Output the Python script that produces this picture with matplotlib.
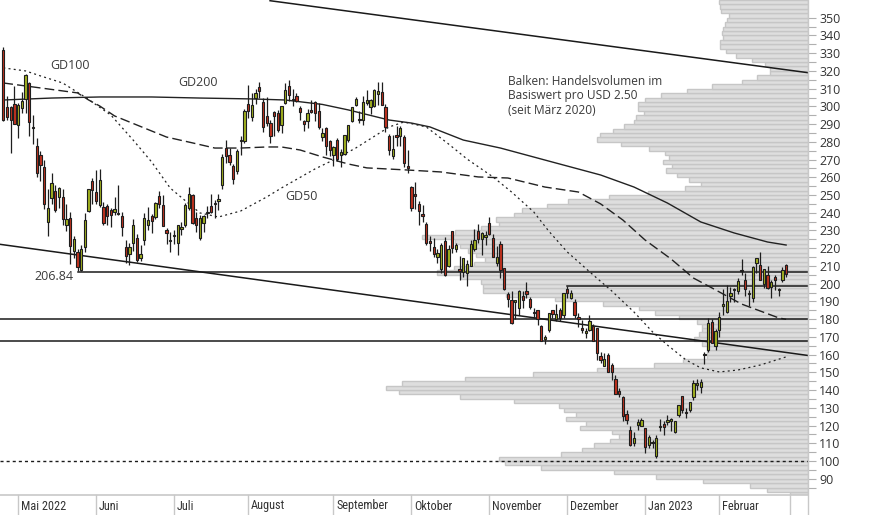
import matplotlib
matplotlib.use("Agg")
import matplotlib.pyplot as plt
import numpy as np
from matplotlib.lines import Line2D
from matplotlib import font_manager

# ---------------- data ----------------
dates = (
    ["26.04.", "27.04.", "28.04.", "29.04."] +
    ["%02d.05." % d for d in [2,3,4,5,6,9,10,11,12,13,16,17,18,19,20,23,24,25,26,27,31]] +
    ["%02d.06." % d for d in [1,2,3,6,7,8,9,10,13,14,15,16,17,21,22,23,24,27,28,29,30]] +
    ["%02d.07." % d for d in [1,5,6,7,8,11,12,13,14,15,18,19,20,21,22,25,26,27,28,29]] +
    ["%02d.08." % d for d in [1,2,3,4,5,8,9,10,11,12,15,16,17,18,19,22,23,24,25,26,29,30,31]] +
    ["%02d.09." % d for d in [1,2,6,7,8,9,12,13,14,15,16,19,20,21,22,23,26,27,28,29,30]] +
    ["%02d.10." % d for d in [3,4,5,6,7,10,11,12,13,14,17,18,19,20,21,24,25,26,27,28,31]] +
    ["%02d.11." % d for d in [1,2,3,4,7,8,9,10,11,14,15,16,17,18,21,22,23,25,28,29,30]] +
    ["%02d.12." % d for d in [1,2,5,6,7,8,9,12,13,14,15,16,19,20,21,22,23,27,28,29,30]] +
    ["%02d.01." % d for d in [3,4,5,6,9,10,11,12,13,17,18,19,20,23,24,25,26,27,30,31]] +
    ["%02d.02." % d for d in [1,2,3,6,7,8,9,10,13,14,15,16,17,21,22,23,24,27,28]]
)

ohlc = [
    (331.8,333.3,291.7,292.1),(299.5,306.0,292.5,293.8),(299.7,300.0,273.9,292.5),(301.3,311.7,290.0,290.3),
    # May
    (289.3,302.1,282.0,301.0),(299.2,308.3,296.0,303.1),(304.3,318.5,296.0,317.5),(313.3,314.0,283.5,291.1),
    (287.7,295.0,279.0,288.5),(277.8,281.9,260.4,262.4),(272.3,275.1,258.1,266.7),(265.7,269.8,242.2,244.7),
    (234.9,253.2,226.7,242.7),(248.6,262.2,245.0,256.5),(252.0,255.8,240.6,241.5),(249.0,254.8,242.9,253.9),
    (248.8,253.5,233.3,236.6),(232.9,244.7,229.8,236.5),(237.0,240.5,211.0,221.3),(218.3,227.0,214.5,225.0),
    (218.0,219.8,206.9,209.4),(207.6,222.0,206.9,219.6),(220.5,239.6,217.9,235.9),(241.1,253.3,240.4,253.2),
    (257.9,259.6,244.7,252.8),
    # June
    (251.7,264.3,244.7,246.8),(244.2,264.6,243.5,258.3),(243.0,245.8,233.0,234.5),(244.0,245.0,233.0,238.3),
    (241.7,242.4,232.0,238.9),(240.2,249.0,238.7,241.9),(239.2,255.5,239.0,239.7),(238.3,240.4,227.0,232.2),
    (220.4,224.7,211.7,215.7),(217.0,223.0,210.3,220.9),(223.2,236.5,218.6,233.0),(226.0,228.0,212.3,213.1),
    (214.2,221.8,213.0,216.8),(224.6,240.0,221.8,237.0),(233.3,243.5,230.5,236.1),(237.9,239.3,228.4,235.1),
    (237.5,246.1,236.4,245.7),(249.4,252.1,242.6,244.9),(244.5,249.9,232.3,232.7),(230.5,231.2,222.3,228.5),
    (224.2,229.3,218.0,224.5),
    # July
    (227.0,230.2,222.1,227.3),(223.0,233.2,216.2,233.1),(230.8,234.6,227.2,231.7),(233.3,245.4,232.2,244.5),
    (242.8,254.6,241.4,250.8),(250.0,250.3,233.7,234.3),(236.9,240.3,229.3,233.1),(225.9,238.8,224.8,237.0),
    (234.0,238.7,229.3,238.3),(240.0,243.6,236.9,240.1),(244.0,250.5,239.6,240.5),(245.0,247.1,236.9,245.5),
    (246.8,250.7,241.5,247.5),(255.9,273.3,253.5,271.7),(276.3,280.8,268.0,272.2),(272.4,276.7,266.7,268.4),
    (266.5,267.3,256.3,258.9),(263.8,275.9,261.8,274.8),(280.3,283.3,272.8,280.9),(280.7,298.3,279.1,297.2),
    # August
    (301.3,311.9,293.3,297.3),(294.0,307.8,291.5,300.6),(305.0,309.6,301.2,307.4),(311.0,313.6,305.0,308.6),
    (302.7,304.6,285.5,288.2),(294.3,305.2,289.1,290.4),(290.7,292.4,279.4,283.3),(297.1,297.5,283.4,294.4),
    (296.5,298.2,285.8,286.6),(289.4,300.2,285.0,300.0),(301.8,313.1,301.2,309.3),(311.7,314.7,302.9,306.6),
    (303.4,309.7,300.0,304.0),(306.0,307.7,302.3,302.9),(299.0,300.4,292.5,296.7),(291.9,292.4,286.3,289.9),
    (291.5,298.8,287.9,296.5),(297.6,303.6,296.5,297.1),(302.4,303.0,291.6,296.1),(297.4,302.0,287.5,288.1),
    (282.8,287.7,280.7,284.8),(287.9,288.5,272.7,277.7),(280.6,281.3,271.8,275.6),
    # September
    (272.6,277.6,266.2,277.2),(281.1,282.4,269.1,270.2),(272.7,276.0,265.7,274.4),(273.1,283.8,272.3,283.7),
    (281.3,289.5,279.8,289.3),(291.7,299.9,291.3,299.7),(300.7,305.5,300.4,304.4),(292.9,297.4,290.4,292.1),
    (292.2,306.0,289.3,302.6),(301.8,309.1,300.7,303.8),(299.6,304.0,295.6,303.4),(300.1,309.8,299.6,309.1),
    (306.9,313.8,300.6,308.7),(308.3,313.8,300.6,300.8),(299.9,301.3,285.8,288.6),(283.1,284.5,272.8,275.3),
    (271.8,284.1,270.3,276.0),(283.8,288.7,277.5,282.9),(283.1,289.0,277.6,287.8),(282.8,283.7,265.8,268.2),
    (266.2,275.6,262.5,265.3),
    # October
    (254.5,255.2,241.0,242.4),(250.5,257.5,242.0,249.4),(245.0,246.7,233.3,240.8),(239.4,244.6,234.7,238.1),
    (233.9,234.6,222.0,223.1),(223.9,227.0,218.4,223.0),(220.9,225.8,215.0,216.5),(215.3,219.3,211.5,217.2),
    (208.3,223.0,206.2,221.7),(224.0,226.3,204.2,205.0),(210.0,221.9,209.5,219.4),(229.5,229.8,217.3,220.2),
    (219.8,222.9,217.8,222.0),(208.3,215.6,202.0,207.3),(206.4,214.7,203.8,214.4),(205.8,213.5,198.6,211.3),
    (210.1,224.4,210.0,222.4),(219.4,230.6,218.2,224.6),(229.8,233.8,222.9,225.1),(225.4,228.9,216.4,228.5),
    (226.2,229.9,221.9,227.5),
    # November
    (234.1,237.4,227.3,227.8),(226.0,227.9,214.8,215.0),(211.4,221.2,210.1,215.3),(222.6,223.8,203.1,207.5),
    (208.7,208.9,196.7,197.1),(194.0,195.2,186.8,191.3),(190.8,195.9,177.1,177.6),(189.9,191.0,180.0,190.7),
    (186.0,196.5,182.6,196.0),(192.8,195.7,186.3,191.0),(195.9,200.8,192.1,194.4),(191.5,192.6,185.7,186.9),
    (184.0,186.2,180.9,183.2),(185.1,185.2,176.6,180.2),(175.9,176.8,167.5,167.9),(168.6,170.9,166.2,169.9),
    (173.6,183.6,172.5,183.2),(185.1,185.2,180.6,182.9),(180.0,188.5,179.0,182.9),(185.0,186.4,178.8,180.8),
    (182.4,194.8,180.6,194.7),
    # December
    (197.1,198.9,191.8,194.7),(191.8,196.3,191.1,194.9),(189.4,191.3,180.6,182.5),(181.2,183.7,175.3,179.8),
    (175.0,179.4,172.2,174.0),(172.2,175.2,169.1,173.4),(173.8,182.5,173.4,179.1),(176.1,177.4,167.5,167.8),
    (174.9,175.1,156.9,161.0),(159.3,161.6,155.3,156.8),(153.4,160.9,153.3,157.7),(159.6,161.0,150.0,150.2),
    (154.0,155.3,145.8,149.9),(146.1,148.5,137.7,137.8),(139.3,141.3,135.9,137.6),(136.0,136.6,122.3,125.4),
    (126.4,128.6,121.0,123.2),(117.5,119.7,108.2,109.1),(110.4,116.3,108.2,112.7),(120.4,123.6,117.5,121.8),
    (120.0,124.5,119.8,123.2),
    # January
    (118.5,118.8,104.6,108.1),(109.1,114.6,107.5,113.6),(110.5,111.8,107.2,110.3),(103.0,114.4,101.8,113.1),
    (119.0,123.5,117.1,119.8),(121.1,122.8,114.9,118.9),(122.1,126.0,120.5,123.2),(122.6,124.1,117.0,123.6),
    (116.6,122.6,115.6,122.4),(125.7,131.7,125.0,131.5),(136.6,136.7,127.0,128.8),(127.3,130.0,124.3,127.2),
    (128.7,133.5,127.4,133.4),(135.9,145.4,134.3,143.8),(143.0,146.5,140.0,143.9),(141.9,146.4,138.1,144.4),
    (160.0,161.4,154.8,160.3),(162.4,180.7,161.2,177.9),(178.1,179.8,166.5,166.7),(164.6,174.3,162.8,173.2),
    # February
    (173.9,183.8,169.9,181.4),(187.3,196.8,182.6,188.3),(184.0,199.0,183.7,190.0),(193.0,198.2,189.9,194.8),
    (196.4,197.5,189.6,196.8),(196.1,203.0,194.3,201.3),(207.8,214.0,204.8,207.3),(202.2,206.2,192.9,196.9),
    (194.4,196.3,187.6,194.6),(191.9,209.8,189.4,209.3),(211.8,214.7,206.1,214.2),(210.8,217.7,201.8,202.0),
    (200.0,208.4,197.5,208.3),(205.0,209.7,197.2,197.4),(197.9,202.0,191.8,200.9),(203.9,205.1,196.3,202.1),
    (196.3,197.7,192.8,196.9),(202.0,209.4,201.1,207.6),(210.6,211.2,203.8,205.7),
]

# moving averages (trading-day index, price)
gd200_idx = [0, 13, 26, 40, 53, 67, 76, 86, 93, 104, 110, 115, 124, 134, 148, 161, 170, 179, 188, 197, 206, 211]
gd200_val = [303.6, 304.7, 305.3, 305.3, 304.7, 304.2, 303.6, 301.1, 298.0, 292.3, 290.6, 288.4, 281.0,
             276.5, 268.6, 261.3, 254.5, 245.5, 234.8, 228.6, 223.5, 221.8]
gd100_idx = [0, 10, 20, 23, 26, 30, 36, 44, 51, 57, 64, 71, 75, 80, 86, 93, 98, 109, 118, 128, 136, 146,
             155, 161, 167, 173, 180, 186, 191, 199, 209, 211]
gd100_val = [313.2, 310.4, 307.6, 303.6, 300.2, 294.6, 289.5, 282.7, 279.4, 276.5, 276.5, 277.1, 277.1,
             275.4, 271.5, 267.5, 265.3, 264.1, 263.0, 260.2, 259.6, 254.5, 251.7, 245.0, 235.9, 224.6,
             213.9, 203.2, 197.6, 188.5, 180.7, 179.9]
gd50_idx = [0, 6, 10, 16, 22, 29, 35, 40, 45, 53, 58, 64, 71, 75, 84, 89, 95, 104, 108, 114, 120, 125,
            132, 137, 143, 147, 152, 159, 164, 170, 175, 179, 184, 188, 193, 198, 204, 211]
gd50_val = [321.7, 320.0, 317.2, 313.2, 305.3, 295.1, 281.0, 268.6, 253.9, 239.9, 237.6, 241.0, 248.9,
            254.0, 264.7, 269.8, 276.5, 288.4, 291.2, 288.4, 278.8, 270.3, 260.2, 251.7, 240.4, 229.7,
            217.9, 204.9, 195.9, 184.0, 172.8, 165.4, 157.0, 152.5, 150.2, 151.3, 154.1, 158.7]

# volume profile: relative trading volume per 2.50 USD price band (since March 2020)
vp_low = [80 + 2.5 * k for k in range(112)]
vp_vol = [4.3, 9.7, 13.7, 24.9, 36.0, 46.0, 63.3, 71.8, 73.2, 58.5, 53.6, 50.7, 46.9, 44.8, 46.4, 54.0,
          52.6, 57.3, 55.0, 57.8, 59.0, 69.7, 82.5, 96.9, 100.0, 96.2, 81.3, 65.2, 50.0, 36.5, 29.6, 23.9,
          23.9, 23.9, 25.1, 27.0, 25.8, 25.1, 25.1, 26.3, 30.6, 36.3, 40.0, 48.6, 60.0, 71.6, 77.0, 77.0,
          77.5, 82.2, 87.9, 83.9, 79.1, 76.5, 78.7, 80.6, 82.5, 83.6, 91.5, 83.6, 77.5, 73.2, 73.9, 69.7,
          67.8, 61.8, 56.9, 47.2, 37.9, 29.1, 25.4, 28.2, 31.0, 33.6, 32.2, 34.4, 32.9, 33.9, 37.7, 44.3,
          50.0, 49.3, 46.2, 43.6, 41.2, 40.8, 38.9, 40.3, 40.3, 38.6, 34.8, 28.7, 22.7, 15.6, 12.1, 9.0,
          9.0, 10.2, 13.3, 17.1, 19.4, 20.9, 20.9, 20.1, 20.4, 20.1, 19.7, 19.2, 18.7, 20.6, 20.9, 21.1]

# trend / support lines (index, price)
trend_top = [(71.9, 359.6), (216.9, 319.0)]
trend_low = [(-0.9, 222.2), (216.9, 159.5)]
support_2068 = (20, 206.84)
resist_199 = (152, 198.92)
level_180 = 180.0
level_1675 = 167.5
level_100 = 100.0

month_labels = ["Mai 2022", "Juni", "Juli", "August", "September", "Oktober", "November",
                "Dezember", "Jan 2023", "Februar", ""]
month_start_idx = [4, 25, 46, 66, 89, 110, 131, 152, 173, 193, 212]

yticks = list(range(90, 351, 10))

# ---------------- layout ----------------
W, H = 874, 515
AX_R, AX_B = 808, 495
XMIN, XMAX = -0.89, 216.9
YMIN, YMAX = 80.8, 360.0

def pick(fams):
    names = {f.name for f in font_manager.fontManager.ttflist}
    for f in fams:
        if f in names:
            return f
    return "DejaVu Sans"

FONT = pick(["Open Sans", "Noto Sans", "DejaVu Sans"])
NARROW = pick(["Liberation Sans Narrow", "Roboto Condensed", "Open Sans Condensed", "Liberation Sans"])
plt.rcParams["font.family"] = [FONT, "DejaVu Sans"]

fig = plt.figure(figsize=(W / 100, H / 100), dpi=100)
ax = fig.add_axes([0, (H - AX_B) / H, AX_R / W, AX_B / H])
ax.set_xlim(XMIN, XMAX)
ax.set_ylim(YMIN, YMAX)
for s in ["top", "left", "bottom", "right"]:
    ax.spines[s].set_visible(False)

px_per_idx = AX_R / (XMAX - XMIN)
max_len_px = 422.0

# volume profile bars
lens = [v / 100.0 * max_len_px / px_per_idx for v in vp_vol]
ax.barh(vp_low, lens, left=[XMAX - l for l in lens], height=2.5, align="edge",
        color="#dedede", edgecolor="#c6c6c6", linewidth=1.0, zorder=1)

# moving averages
ax.plot(gd200_idx, gd200_val, color="#222222", lw=1.0, zorder=3)
ax.plot(gd100_idx, gd100_val, color="#222222", lw=1.0, dashes=(7, 3), zorder=3)
ax.plot(gd50_idx, gd50_val, color="#222222", lw=0.9, dashes=(1.6, 2.6), zorder=3)

# trend lines
ax.plot([p[0] for p in trend_top], [p[1] for p in trend_top], color="#1a1a1a", lw=1.1, zorder=3)
ax.plot([p[0] for p in trend_low], [p[1] for p in trend_low], color="#1a1a1a", lw=1.1, zorder=3)
ax.plot([support_2068[0], XMAX], [support_2068[1]] * 2, color="#1a1a1a", lw=1.1, zorder=3)
ax.plot([resist_199[0], XMAX], [resist_199[1]] * 2, color="#1a1a1a", lw=1.1, zorder=3)
ax.axhline(level_180, color="#1a1a1a", lw=1.1, zorder=3)
ax.axhline(level_1675, color="#1a1a1a", lw=1.1, zorder=3)
ax.axhline(level_100, color="#1a1a1a", lw=1.0, dashes=(2.2, 2.2), zorder=3)

# candles
o = np.array([r[0] for r in ohlc]); hi = np.array([r[1] for r in ohlc])
lo = np.array([r[2] for r in ohlc]); c = np.array([r[3] for r in ohlc])
idx = np.arange(len(ohlc))
up = c >= o
ax.vlines(idx, lo, hi, color="#1e1e1e", lw=0.9, zorder=4)
body_bot = np.minimum(o, c)
body_h = np.maximum(np.abs(c - o), 0.6)
ax.bar(idx[up], body_h[up], bottom=body_bot[up], width=0.62, color="#a2b21e",
       edgecolor="#1e1e1e", linewidth=0.8, zorder=5)
ax.bar(idx[~up], body_h[~up], bottom=body_bot[~up], width=0.62, color="#c0321f",
       edgecolor="#1e1e1e", linewidth=0.8, zorder=5)

# labels inside the chart
tc = "#3a3a3a"
ax.text(12.6, 322.8, "GD100", fontsize=9, color=tc, va="center", ha="left")
ax.text(47.1, 313.2, "GD200", fontsize=9, color=tc, va="center", ha="left")
ax.text(75.9, 248.9, "GD50", fontsize=9, color=tc, va="center", ha="left")
ax.text(19.0, 203.8, "206.84", fontsize=9, color=tc, va="center", ha="right")
ax.text(136.0, 317.7, "Balken: Handelsvolumen im\nBasiswert pro USD 2.50\n(seit März 2020)",
        fontsize=8.6, color=tc, va="top", ha="left", linespacing=1.15,
        transform=ax.transData)

# y axis on the right
ax.yaxis.tick_right()
ax.set_yticks(yticks)
ax.set_yticks([v + 5 for v in yticks[:-1]] + [85], minor=True)
ax.tick_params(axis="y", which="both", direction="out", length=5.5, width=0.8, color="#b0b0b0",
               labelsize=9, labelcolor="#333333", pad=2.5)
ax.tick_params(axis="x", which="both", bottom=False, labelbottom=False)

# frame lines (figure coords)
gray = "#c8c8c8"
fig.add_artist(Line2D([0, AX_R / W], [(H - AX_B) / H] * 2, color=gray, lw=1.2))
fig.add_artist(Line2D([AX_R / W] * 2, [0, 1], color=gray, lw=1.0))
for lab, mi in zip(month_labels, month_start_idx):
    xpx = (mi - XMIN) * px_per_idx
    fig.add_artist(Line2D([xpx / W] * 2, [0, (H - AX_B) / H], color=gray, lw=1.0))
    if lab:
        fig.text((xpx + 3) / W, (H - 506) / H, lab, fontsize=8.8, color="#333333",
                 ha="left", va="center", family=[NARROW, "DejaVu Sans"])

fig.savefig("out.png", dpi=100)
